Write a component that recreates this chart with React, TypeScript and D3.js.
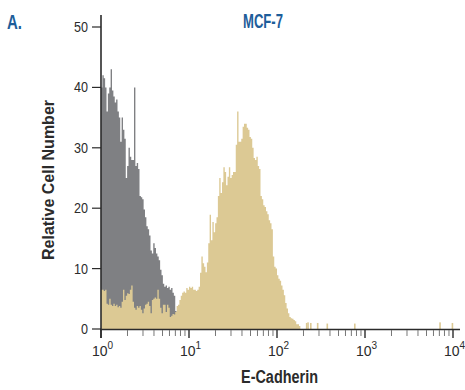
import * as d3 from "d3";

// channels are 1/64 of a decade, first channel starts at 10^0
const CHANNELS_PER_DECADE = 64;

// isotype control (gray)
const GRAY_COUNTS = [
  40, 42, 41.5, 40, 36, 39, 40, 43, 39.5, 38.5, 37.5, 38, 36, 35, 31, 35, 33, 31.5, 25, 27,
  30, 28.5, 28, 28, 40, 27, 27.5, 26.5, 22, 21.8, 21.5, 19.8, 18.5, 17, 16.5, 15.5, 13, 12.5, 14.2, 13.4,
  12.5, 12, 11.4, 9.8, 8.9, 7.5, 7, 7.2, 6.8, 7, 6.5, 6.8, 6, 5.5, 3,
];

// E-Cadherin stained (tan)
const TAN_COUNTS = [
  6.5, 6.5, 6.3, 6.5, 4.2, 4, 5, 4, 3.8, 4.2, 3.8, 4, 3.6, 3.8, 3.5, 4.5, 6.5, 4.8, 5.5, 5.9,
  5.8, 6.5, 7.2, 4.5, 3.5, 3.2, 3.8, 3.5, 3.8, 3.2, 2.6, 3.4, 4, 4.2, 4.5, 3.8, 2.6, 4.8, 5, 5.2,
  5, 6.5, 5, 3.5, 2.6, 4, 4, 2.8, 4, 3.5, 2, 2.2, 2.5, 2.4, 2.8, 3.8, 4, 4.8, 5.5, 6,
  6.2, 6, 6.8, 6.5, 7, 6.8, 7, 6.5, 6.5, 6.3, 6.5, 7, 9.3, 12, 10.9, 10.3, 9.4, 11, 14.2, 18.9,
  14.7, 17.7, 16, 17.5, 18.5, 22, 25, 22.5, 24.3, 26.8, 26, 23.8, 25.2, 26.8, 25, 25.5, 26, 26, 30.5, 36,
  31, 31, 31.5, 33.5, 34, 34, 33.3, 33, 31.8, 31.5, 30, 28.3, 28, 28.5, 27, 26.5, 22, 21.5, 20.5, 20.2,
  19.5, 19, 18, 17.5, 16.5, 12, 10.3, 10, 8.9, 8.3, 8, 7.2, 6.5, 5.6, 4.3, 3.4, 2.6, 2, 1.8, 1.7,
  1.5, 1.3, 0.8, 0.8, 0.5,
];

// scattered single events past the main peak: [channel, count]
const TAN_SPARSE = [
  [149, 1], [150, 1.1], [152, 1], [157, 1], [164, 0.9], [184, 0.9], [246, 1.1], [255, 1],
];

const Y_TICKS = [0, 10, 20, 30, 40, 50];
const X_DECADES = [0, 1, 2, 3, 4];

const GRAY = "#7f8083";
const TAN = "#dcc994";
const BLUE = "#1d5d9a";
const INK = "#2b2b2b";
const FONT = "'Liberation Sans', Arial, sans-serif";

export default function App() {
  const x = d3.scaleLog().domain([1, 1e4]).range([101, 453]);
  const y = d3.scaleLinear().domain([0, 50]).range([329, 27]);
  const chan = (i: number) => Math.pow(10, i / CHANNELS_PER_DECADE);

  const histPath = (counts: number[]) => {
    const pts: [number, number][] = counts.map((v, i) => [chan(i), v]);
    pts.push([chan(counts.length), counts[counts.length - 1]]);
    return (
      d3
        .area<[number, number]>()
        .curve(d3.curveStepAfter)
        .x((d) => x(d[0]))
        .y0(y(0))
        .y1((d) => y(d[1]))(pts) || ""
    );
  };

  const minor: number[] = [];
  for (let d = 0; d < 4; d++) for (let k = 2; k <= 9; k++) minor.push(k * Math.pow(10, d));

  return (
    <svg
      width={465}
      height={390}
      style={{ position: "absolute", left: 0, top: 0, background: "#fff" }}
      fontFamily={FONT}
    >
      <text x={7} y={29} fill={BLUE} fontSize={20} fontWeight="bold" textLength={15} lengthAdjust="spacingAndGlyphs">A.</text>
      <text x={243} y={28} fill={BLUE} fontSize={20} fontWeight="bold" textLength={40} lengthAdjust="spacingAndGlyphs">MCF-7</text>

      {/* histograms: gray first, tan on top */}
      <path d={histPath(GRAY_COUNTS)} fill={GRAY} />
      <path d={histPath(TAN_COUNTS)} fill={TAN} />
      {TAN_SPARSE.map(([c, v]) => (
        <rect
          key={c}
          x={x(chan(c))}
          y={y(v)}
          width={Math.max(1.6, x(chan(c + 1)) - x(chan(c)))}
          height={y(0) - y(v)}
          fill={TAN}
        />
      ))}

      {/* y axis */}
      <line x1={101} x2={101} y1={15} y2={338} stroke={INK} strokeWidth={1.6} />
      {Y_TICKS.map((t) => (
        <g key={t}>
          <line x1={92} x2={101} y1={y(t)} y2={y(t)} stroke={INK} strokeWidth={1.2} />
          <text
            x={88}
            y={y(t) + 5}
            textAnchor="end"
            fontSize={15}
            fill={INK}
            textLength={t === 0 ? 7 : 14}
            lengthAdjust="spacingAndGlyphs"
          >
            {t}
          </text>
        </g>
      ))}
      <text
        transform="translate(54,180) rotate(-90)"
        textAnchor="middle"
        fontSize={17}
        fontWeight="bold"
        fill={INK}
        textLength={160}
        lengthAdjust="spacingAndGlyphs"
      >
        Relative Cell Number
      </text>

      {/* x axis */}
      <line x1={100} x2={460} y1={329.5} y2={329.5} stroke={INK} strokeWidth={1.6} />
      {minor.map((v) => (
        <line key={v} x1={x(v)} x2={x(v)} y1={330} y2={336} stroke="#777" strokeWidth={1} />
      ))}
      {X_DECADES.map((d) => (
        <text key={d} x={x(Math.pow(10, d)) - 9} y={356} fontSize={14} fill={INK}>
          10<tspan dy={-7} fontSize={10}>{d}</tspan>
        </text>
      ))}
      {X_DECADES.map((d) => (
        <line
          key={"t" + d}
          x1={x(Math.pow(10, d))}
          x2={x(Math.pow(10, d))}
          y1={330}
          y2={338}
          stroke={INK}
          strokeWidth={1.4}
        />
      ))}
      <text
        x={241}
        y={383}
        fontSize={18}
        fontWeight="bold"
        fill={INK}
        textLength={77}
        lengthAdjust="spacingAndGlyphs"
      >
        E-Cadherin
      </text>
    </svg>
  );
}
